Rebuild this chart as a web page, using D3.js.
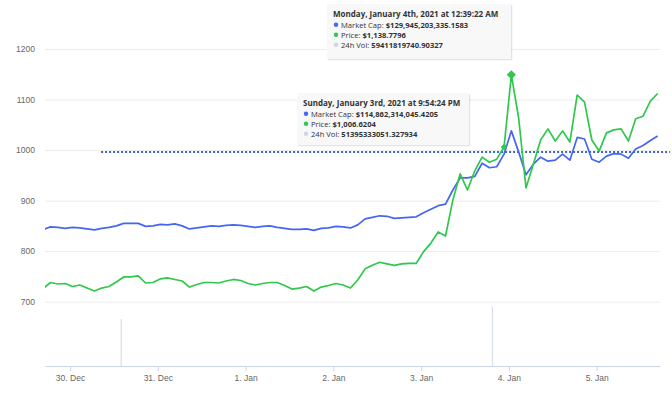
<!DOCTYPE html>
<html>
<head>
<meta charset="utf-8">
<script src="https://cdn.jsdelivr.net/npm/d3@7"></script>
<style>
  body { margin: 0; background: #fff; }
  svg { font-family: "Open Sans", "DejaVu Sans", sans-serif; }
</style>
</head>
<body>
<svg id="chart" width="672" height="395"></svg>
<script>
// samples every 2 hours, first one on 29 Dec 2020 16:40 UTC
var startTime = Date.UTC(2020, 11, 29, 16, 40);
var stepHours = 2;

// market cap (plotted on the price scale)
var capValues = [
  843, 848, 847, 845, 847, 846, 844, 842, 845, 847,
  850, 855, 855, 855, 849, 850, 853, 852, 854, 850,
  844, 846, 848, 850, 849, 851, 852, 851, 849, 847,
  849, 850, 847, 845, 843, 843, 844, 841, 845, 846,
  849, 848, 846, 852, 864, 867, 870, 869, 865, 866,
  867, 868, 876, 883, 890, 893, 921, 945, 945, 948,
  974, 965, 967, 992, 1038, 996, 951, 972, 986, 978,
  980, 992, 980, 1025, 1022, 982, 976, 988, 993, 992,
  984, 1002, 1009, 1019, 1028
];

// price in USD
var priceValues = [
  726, 738, 735, 736, 730, 733, 727, 721, 727, 730,
  739, 749, 749, 751, 737, 738, 745, 747, 744, 741,
  729, 734, 738, 738, 737, 741, 744, 742, 736, 733,
  736, 738, 738, 732, 725, 727, 730, 721, 729, 732,
  736, 733, 727, 743, 765, 772, 778, 775, 772, 775,
  776, 776, 799, 816, 838, 830, 901, 953, 921, 959,
  986, 976, 982, 1006, 1149, 1063, 925, 972, 1020, 1042,
  1018, 1038, 1016, 1109, 1095, 1020, 998, 1034, 1040, 1042,
  1018, 1062, 1067, 1097, 1112
];

// 24h volume bars
var volTimes = [Date.UTC(2020, 11, 30, 14, 0), Date.UTC(2021, 0, 3, 19, 30)];
var volValues = [40700000000, 51395333051];

var yTicks = [700, 800, 900, 1000, 1100, 1200];
var refLevel = 996;
var refStart = Date.UTC(2020, 11, 30, 8, 30);
var refEnd = Date.UTC(2021, 0, 5, 20, 0);

var markerIndex = [63, 64];

var tooltipHeaders = [
  "Monday, January 4th, 2021 at 12:39:22 AM",
  "Sunday, January 3rd, 2021 at 9:54:24 PM"
];
var tooltipRows = [
  [["Market Cap: ", "$129,945,203,335.1583"], ["Price: ", "$1,138.7796"], ["24h Vol: ", "59411819740.90327"]],
  [["Market Cap: ", "$114,862,314,045.4205"], ["Price: ", "$1,006.6204"], ["24h Vol: ", "51395333051.327934"]]
];

var blue = "#4466f2", green = "#2fc84c", volColor = "#d9deec";

var svg = d3.select("#chart");
var left = 45, right = 660, axisY = 366;

var x = d3.scaleUtc()
  .domain([Date.UTC(2020, 11, 29, 17, 10), Date.UTC(2021, 0, 5, 17, 18)])
  .range([left, right]);
var y = d3.scaleLinear().domain([700, 1200]).range([301.7, 49]);
var yVol = d3.scaleLinear().domain([0, 2.6e11]).range([axisY, 66]);

function timeAt(i) { return startTime + i * stepHours * 3600000; }

svg.append("clipPath")
  .attr("id", "plot-clip")
  .append("rect")
  .attr("x", left)
  .attr("y", 0)
  .attr("width", right - left)
  .attr("height", axisY);

// grid + y labels
var yAxis = svg.append("g")
  .attr("transform", "translate(" + left + ",0)")
  .call(d3.axisLeft(y).tickValues(yTicks).tickFormat(d3.format("d"))
    .tickSize(-(right - left)).tickPadding(10));
yAxis.select(".domain").remove();
yAxis.selectAll(".tick line").attr("stroke", "#ececec");
yAxis.selectAll(".tick text")
  .attr("fill", "#666")
  .style("font-size", "8.5px");

// volume
svg.append("g").selectAll("line")
  .data(volTimes)
  .join("line")
  .attr("x1", function(d) { return x(d); })
  .attr("x2", function(d) { return x(d); })
  .attr("y1", yVol(0))
  .attr("y2", function(d, i) { return yVol(volValues[i]); })
  .attr("stroke", volColor)
  .attr("stroke-width", 1.2);

// x axis
var xAxis = svg.append("g")
  .attr("transform", "translate(0," + axisY + ")")
  .call(d3.axisBottom(x)
    .ticks(d3.utcDay.every(1))
    .tickFormat(d3.utcFormat("%-d. %b"))
    .tickSizeInner(5)
    .tickSizeOuter(0)
    .tickPadding(4));
xAxis.select(".domain").attr("stroke", "#ccd6eb");
xAxis.selectAll(".tick line").attr("stroke", "#ccd6eb");
xAxis.selectAll(".tick text")
  .attr("fill", "#666")
  .style("font-size", "8.5px");

// reference level
svg.append("line")
  .attr("x1", x(refStart))
  .attr("x2", x(refEnd))
  .attr("y1", y(refLevel))
  .attr("y2", y(refLevel))
  .attr("stroke", "#3a64cc")
  .attr("stroke-width", 2)
  .attr("stroke-dasharray", "2,2");

var line = d3.line()
  .x(function(d, i) { return x(timeAt(i)); })
  .y(function(d) { return y(d); });

var plot = svg.append("g").attr("clip-path", "url(#plot-clip)");
plot.append("path")
  .datum(capValues)
  .attr("d", line)
  .attr("fill", "none")
  .attr("stroke", blue)
  .attr("stroke-width", 1.7)
  .attr("stroke-linejoin", "round");
plot.append("path")
  .datum(priceValues)
  .attr("d", line)
  .attr("fill", "none")
  .attr("stroke", green)
  .attr("stroke-width", 1.7)
  .attr("stroke-linejoin", "round");

// hover markers
svg.selectAll(".marker")
  .data(markerIndex)
  .join("path")
  .attr("class", "marker")
  .attr("d", function(d, i) { return d3.symbol(d3.symbolSquare, i ? 42 : 22)(); })
  .attr("transform", function(d) {
    return "translate(" + x(timeAt(d)) + "," + y(priceValues[d]) + ") rotate(45)";
  })
  .attr("fill", green);

// tooltips
var boxes = [
  { x: 327, y: 4, w: 184, h: 55 },
  { x: 297, y: 93, w: 172, h: 52 }
];
var dotColors = [blue, green, "#cfd5e6"];

boxes.forEach(function(b, k) {
  var g = svg.append("g").attr("transform", "translate(" + b.x + "," + b.y + ")");
  [3, 2, 1].forEach(function(o) {
    g.append("rect")
      .attr("x", o * 0.5)
      .attr("y", o * 0.5)
      .attr("width", b.w)
      .attr("height", b.h)
      .attr("fill", "#000")
      .attr("opacity", 0.02 * o);
  });
  g.append("rect")
    .attr("width", b.w)
    .attr("height", b.h)
    .attr("fill", "#f8f8f8");
  g.append("text")
    .attr("x", 6)
    .attr("y", 13)
    .attr("fill", "#333")
    .style("font-size", "8px")
    .style("font-weight", "bold")
    .text(tooltipHeaders[k]);
  tooltipRows[k].forEach(function(row, j) {
    var ty = 23.5 + j * 10;
    g.append("circle")
      .attr("cx", 9)
      .attr("cy", ty - 2.7)
      .attr("r", 2.2)
      .attr("fill", dotColors[j]);
    var t = g.append("text")
      .attr("x", 14)
      .attr("y", ty)
      .attr("fill", "#333")
      .style("font-size", "7.6px");
    t.append("tspan").text(row[0]);
    t.append("tspan").style("font-weight", "bold").text(row[1]);
  });
});
</script>
</body>
</html>
